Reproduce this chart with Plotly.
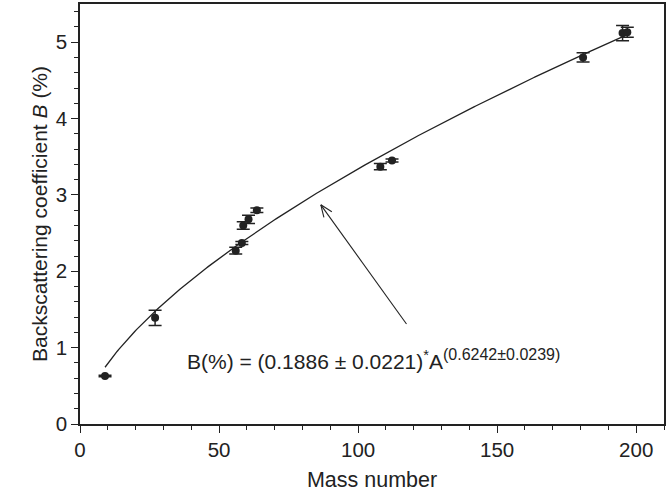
import numpy as np
import plotly.graph_objects as go

mass_number = [9, 27, 56, 58.2, 58.7, 60.6, 63.6, 108, 112.2, 180.9, 195.1, 196.8]
backscatter = [0.63, 1.39, 2.27, 2.37, 2.60, 2.68, 2.80, 3.37, 3.45, 4.80, 5.12, 5.13]
backscatter_err = [0.01, 0.10, 0.045, 0.02, 0.05, 0.055, 0.03, 0.04, 0.02, 0.06, 0.10, 0.065]

# Fit parameters shown on the chart
fit_coef = 0.1886
fit_exp = 0.6242
fit_range = [9, 197]

x_ticks = [0, 50, 100, 150, 200]
y_ticks = [0, 1, 2, 3, 4, 5]

FONT = "Liberation Sans, Arial, sans-serif"
INK = "#222222"

W, H = 670, 493
ML, MR, MT, MB = 80, 6, 4, 69
X_RANGE = [0, 210]
Y_RANGE = [0, 5.5]

fit_x = np.linspace(fit_range[0], fit_range[1], 300)
fit_y = fit_coef * fit_x ** fit_exp

fig = go.Figure()
fig.add_trace(go.Scatter(
    x=fit_x, y=fit_y, mode="lines",
    line=dict(color=INK, width=1.3), hoverinfo="skip", showlegend=False))
fig.add_trace(go.Scatter(
    x=mass_number, y=backscatter, mode="markers",
    marker=dict(color=INK, size=8, symbol="circle"),
    error_y=dict(type="data", array=backscatter_err, visible=True,
                 color=INK, thickness=1.5, width=6.5),
    showlegend=False))

axis_common = dict(
    showgrid=False, zeroline=False, showline=True, linecolor=INK, linewidth=1.5,
    mirror=True, ticks="outside", ticklen=7, tickwidth=1.3, tickcolor=INK,
    tickfont=dict(family=FONT, size=20.5, color=INK), automargin=False,
)

fig.update_layout(
    width=W, height=H,
    margin=dict(l=ML, r=MR, t=MT, b=MB),
    paper_bgcolor="white", plot_bgcolor="white",
    font=dict(family=FONT, color=INK),
    xaxis=dict(axis_common, range=X_RANGE, tickvals=x_ticks,
               minor=dict(dtick=10, ticklen=4, tickwidth=1.2, tickcolor=INK, ticks="outside"),
               title=dict(text="Mass number", font=dict(family=FONT, size=21.5, color=INK), standoff=12)),
    yaxis=dict(axis_common, range=Y_RANGE, tickvals=y_ticks,
               minor=dict(dtick=0.2, ticklen=4, tickwidth=1.2, tickcolor=INK, ticks="outside"),
               title=dict(text="Backscattering coefficient <i>B</i> (%)",
                          font=dict(family=FONT, size=21, color=INK), standoff=2)),
)

# Arrow pointing at the fit curve (open V head)
arrow_tip = (86.6, 2.87)
arrow_tail = (117.4, 1.31)
px_x = (W - ML - MR) / (X_RANGE[1] - X_RANGE[0])
px_y = (H - MT - MB) / (Y_RANGE[1] - Y_RANGE[0])
fig.add_shape(type="line", x0=arrow_tail[0], y0=arrow_tail[1], x1=arrow_tip[0], y1=arrow_tip[1],
              xref="x", yref="y", line=dict(color=INK, width=1.1))
dx = (arrow_tail[0] - arrow_tip[0]) * px_x
dy = (arrow_tail[1] - arrow_tip[1]) * px_y
ang = np.arctan2(dy, dx)
head_len, head_ang = 13, np.radians(22)
for s in (-1, 1):
    a = ang + s * head_ang
    fig.add_shape(type="line", x0=arrow_tip[0], y0=arrow_tip[1],
                  x1=arrow_tip[0] + head_len * np.cos(a) / px_x,
                  y1=arrow_tip[1] + head_len * np.sin(a) / px_y,
                  xref="x", yref="y", line=dict(color=INK, width=1.1))

fig.add_annotation(
    x=37.6, y=0.84, xref="x", yref="y", xanchor="left", yanchor="middle",
    showarrow=False,
    text="B(%) = (0.1886 ± 0.0221)<sup>*</sup>A<sup><span style='font-size:16px'>(0.6242±0.0239)</span></sup>",
    font=dict(family=FONT, size=21, color=INK))

fig.write_html("out.html", config={"displayModeBar": False},
               post_script="document.body.style.margin='0';")
